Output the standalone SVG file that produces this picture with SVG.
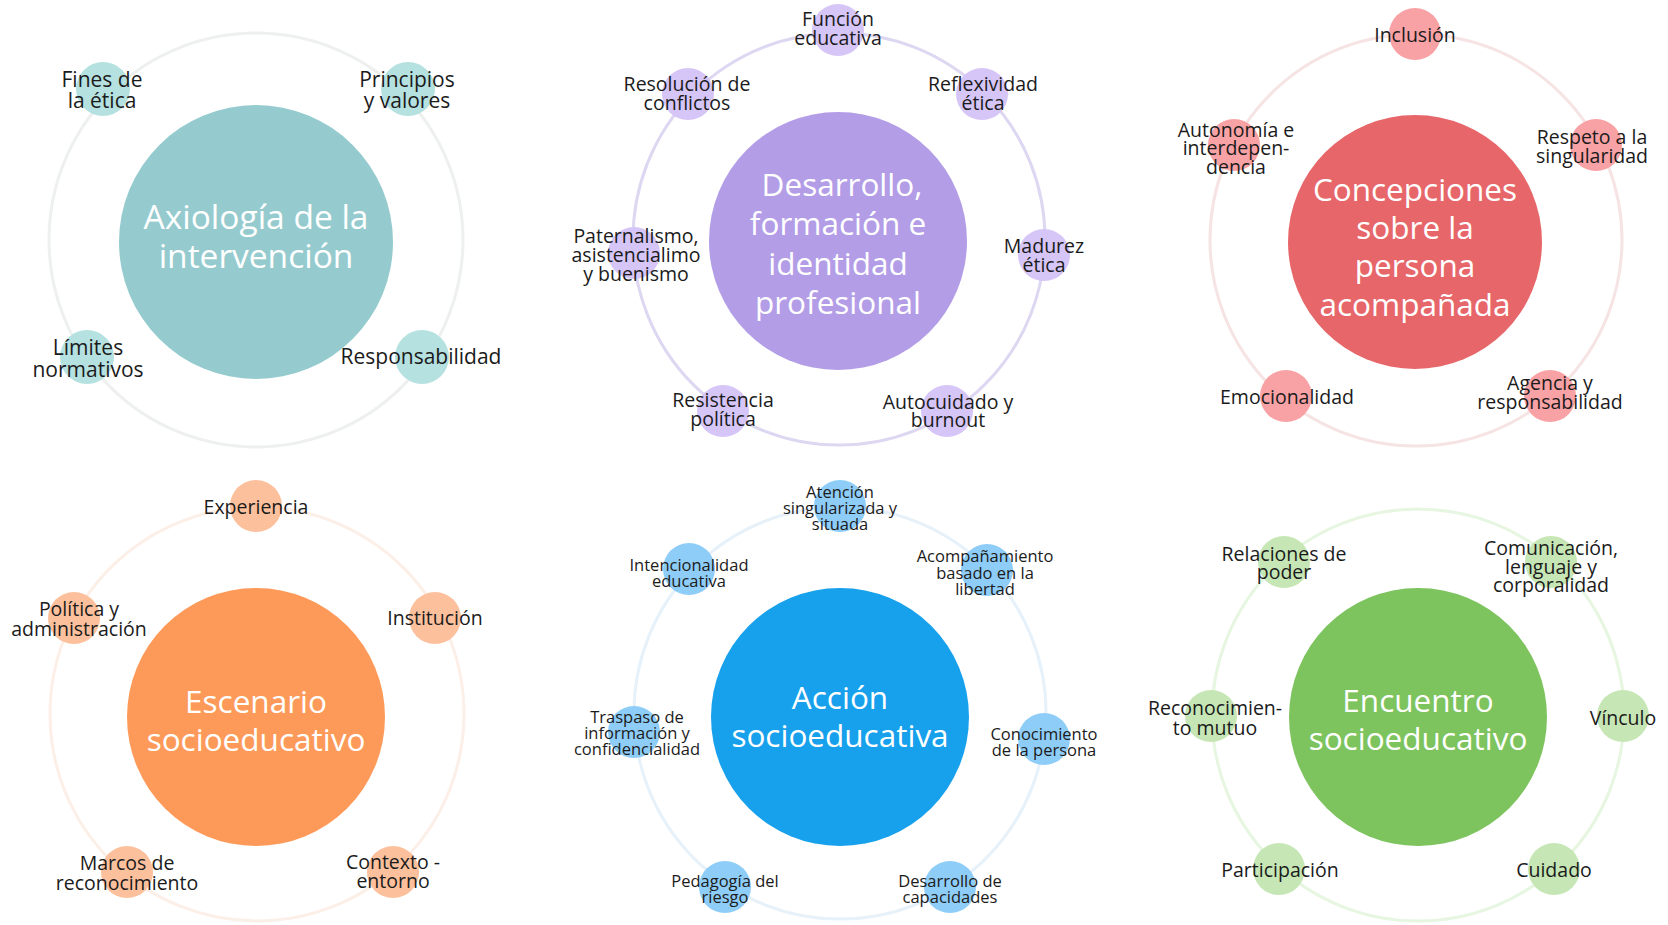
<svg xmlns="http://www.w3.org/2000/svg" width="1668" height="925" viewBox="0 0 1668 925">
  <style>
    text { font-family: "Open Sans", "Noto Sans", "Liberation Sans", sans-serif; text-anchor: middle; dominant-baseline: central; }
    .lbl { font-size: 19.5px; fill: #1b1b1b; }
    .lbl-l { font-size: 21px; fill: #1b1b1b; }
    .lbl-s { font-size: 16.5px; fill: #1b1b1b; }
    .hub-t { font-size: 31.5px; fill: #ffffff; }
    .hub-l { font-size: 33.5px; fill: #ffffff; }
    .ring { fill: none; stroke-width: 3; }
    .teal .hub { fill: #95CBCE; } .teal .sat { fill: #B5E1E0; } .ring.teal { stroke: #EEF0F0; }
    .lav .hub { fill: #B39DE7; } .lav .sat { fill: #D6C5F7; } .ring.lav { stroke: #DED7F1; }
    .red .hub { fill: #E7666A; } .red .sat { fill: #F9A2A5; } .ring.red { stroke: #F6E4E4; }
    .ora .hub { fill: #FE9A59; } .ora .sat { fill: #FDC09C; } .ring.ora { stroke: #FCEFE7; }
    .blu .hub { fill: #17A0EC; } .blu .sat { fill: #8ECDF8; } .ring.blu { stroke: #E6F1FA; }
    .grn .hub { fill: #7DC35E; } .grn .sat { fill: #C6E7B5; } .ring.grn { stroke: #E6F6E0; }
  </style>
  <rect width="1668" height="925" fill="#ffffff"/>

  <!-- orbit rings linking each hub with its satellites -->
  <g id="connectors">
    <circle class="ring teal" cx="256" cy="240" r="207"/>
    <circle class="ring lav" cx="839" cy="239" r="206"/>
    <circle class="ring red" cx="1416" cy="240" r="206"/>
    <circle class="ring ora" cx="257" cy="714" r="207"/>
    <circle class="ring blu" cx="840" cy="713" r="206"/>
    <circle class="ring grn" cx="1418" cy="715" r="206"/>
  </g>

  <!-- Axiología de la intervención -->
  <g id="axiologia" class="teal">
    <g id="axiologia-hub"><circle class="hub" cx="256" cy="242" r="137"/>
      <text class="hub-l"><tspan x="256" y="216">Axiología de la</tspan><tspan x="256" y="255">intervención</tspan></text></g>
    <g id="fines"><circle class="sat" cx="103" cy="89" r="27"/>
      <text class="lbl-l"><tspan x="102" y="79">Fines de</tspan><tspan x="102" y="100">la ética</tspan></text></g>
    <g id="principios"><circle class="sat" cx="408" cy="89" r="27"/>
      <text class="lbl-l"><tspan x="407" y="79">Principios</tspan><tspan x="407" y="100">y valores</tspan></text></g>
    <g id="limites"><circle class="sat" cx="87" cy="357" r="27"/>
      <text class="lbl-l"><tspan x="88" y="347">Límites</tspan><tspan x="88" y="369">normativos</tspan></text></g>
    <g id="responsabilidad"><circle class="sat" cx="422" cy="357" r="27"/>
      <text class="lbl-l"><tspan x="421" y="356">Responsabilidad</tspan></text></g>
  </g>

  <!-- Desarrollo, formación e identidad profesional -->
  <g id="desarrollo" class="lav">
    <g id="desarrollo-hub"><circle class="hub" cx="838" cy="241" r="129"/>
      <text class="hub-t"><tspan x="842" y="183">Desarrollo,</tspan><tspan x="838" y="222">formación e</tspan><tspan x="838" y="262">identidad</tspan><tspan x="838" y="301">profesional</tspan></text></g>
    <g id="funcion"><circle class="sat" cx="838" cy="30" r="26"/>
      <text class="lbl"><tspan x="838" y="18">Función</tspan><tspan x="838" y="37">educativa</tspan></text></g>
    <g id="reflexividad"><circle class="sat" cx="982" cy="94" r="26"/>
      <text class="lbl"><tspan x="983" y="83">Reflexividad</tspan><tspan x="983" y="102">ética</tspan></text></g>
    <g id="madurez"><circle class="sat" cx="1044" cy="255" r="26"/>
      <text class="lbl"><tspan x="1044" y="245">Madurez</tspan><tspan x="1044" y="264">ética</tspan></text></g>
    <g id="autocuidado"><circle class="sat" cx="947" cy="411" r="26"/>
      <text class="lbl"><tspan x="948" y="401">Autocuidado y</tspan><tspan x="948" y="419">burnout</tspan></text></g>
    <g id="resistencia"><circle class="sat" cx="723" cy="411" r="26"/>
      <text class="lbl"><tspan x="723" y="399">Resistencia</tspan><tspan x="723" y="418">política</tspan></text></g>
    <g id="paternalismo"><circle class="sat" cx="634" cy="253" r="26"/>
      <text class="lbl"><tspan x="636" y="235">Paternalismo,</tspan><tspan x="636" y="254">asistencialimo</tspan><tspan x="636" y="273">y buenismo</tspan></text></g>
    <g id="resolucion"><circle class="sat" cx="688" cy="94" r="26"/>
      <text class="lbl"><tspan x="687" y="83">Resolución de</tspan><tspan x="687" y="102">conflictos</tspan></text></g>
  </g>

  <!-- Concepciones sobre la persona acompañada -->
  <g id="concepciones" class="red">
    <g id="concepciones-hub"><circle class="hub" cx="1415" cy="242" r="127"/>
      <text class="hub-t"><tspan x="1415" y="188">Concepciones</tspan><tspan x="1415" y="226">sobre la</tspan><tspan x="1415" y="264">persona</tspan><tspan x="1415" y="303">acompañada</tspan></text></g>
    <g id="inclusion"><circle class="sat" cx="1415" cy="34" r="26"/>
      <text class="lbl"><tspan x="1415" y="34">Inclusión</tspan></text></g>
    <g id="respeto"><circle class="sat" cx="1596" cy="145" r="26"/>
      <text class="lbl"><tspan x="1592" y="136">Respeto a la</tspan><tspan x="1592" y="155">singularidad</tspan></text></g>
    <g id="agencia"><circle class="sat" cx="1550" cy="396" r="26"/>
      <text class="lbl"><tspan x="1550" y="382">Agencia y</tspan><tspan x="1550" y="401">responsabilidad</tspan></text></g>
    <g id="emocionalidad"><circle class="sat" cx="1286" cy="396" r="26"/>
      <text class="lbl"><tspan x="1287" y="396">Emocionalidad</tspan></text></g>
    <g id="autonomia"><circle class="sat" cx="1234" cy="145" r="26"/>
      <text class="lbl"><tspan x="1236" y="129">Autonomía e</tspan><tspan x="1236" y="147">interdepen-</tspan><tspan x="1236" y="166">dencia</tspan></text></g>
  </g>

  <!-- Escenario socioeducativo -->
  <g id="escenario" class="ora">
    <g id="escenario-hub"><circle class="hub" cx="256" cy="717" r="129"/>
      <text class="hub-t"><tspan x="256" y="700">Escenario</tspan><tspan x="256" y="738">socioeducativo</tspan></text></g>
    <g id="experiencia"><circle class="sat" cx="256" cy="506" r="26"/>
      <text class="lbl"><tspan x="256" y="506">Experiencia</tspan></text></g>
    <g id="institucion"><circle class="sat" cx="435" cy="618" r="26"/>
      <text class="lbl"><tspan x="435" y="617">Institución</tspan></text></g>
    <g id="contexto"><circle class="sat" cx="393" cy="872" r="26"/>
      <text class="lbl"><tspan x="393" y="861">Contexto -</tspan><tspan x="393" y="880">entorno</tspan></text></g>
    <g id="marcos"><circle class="sat" cx="127" cy="872" r="26"/>
      <text class="lbl"><tspan x="127" y="862">Marcos de</tspan><tspan x="127" y="882">reconocimiento</tspan></text></g>
    <g id="politica"><circle class="sat" cx="74" cy="618" r="26"/>
      <text class="lbl"><tspan x="79" y="608">Política y</tspan><tspan x="79" y="628">administración</tspan></text></g>
  </g>

  <!-- Acción socioeducativa -->
  <g id="accion" class="blu">
    <g id="accion-hub"><circle class="hub" cx="840" cy="717" r="129"/>
      <text class="hub-t"><tspan x="840" y="696">Acción</tspan><tspan x="840" y="734">socioeducativa</tspan></text></g>
    <g id="atencion"><circle class="sat" cx="840" cy="506" r="26"/>
      <text class="lbl-s"><tspan x="840" y="491">Atención</tspan><tspan x="840" y="507">singularizada y</tspan><tspan x="840" y="523">situada</tspan></text></g>
    <g id="acompanamiento"><circle class="sat" cx="987" cy="570" r="26"/>
      <text class="lbl-s"><tspan x="985" y="555">Acompañamiento</tspan><tspan x="985" y="572">basado en la</tspan><tspan x="985" y="588">libertad</tspan></text></g>
    <g id="conocimiento"><circle class="sat" cx="1044" cy="739" r="26"/>
      <text class="lbl-s"><tspan x="1044" y="733">Conocimiento</tspan><tspan x="1044" y="749">de la persona</tspan></text></g>
    <g id="capacidades"><circle class="sat" cx="950" cy="887" r="26"/>
      <text class="lbl-s"><tspan x="950" y="880">Desarrollo de</tspan><tspan x="950" y="896">capacidades</tspan></text></g>
    <g id="riesgo"><circle class="sat" cx="725" cy="887" r="26"/>
      <text class="lbl-s"><tspan x="725" y="880">Pedagogía del</tspan><tspan x="725" y="896">riesgo</tspan></text></g>
    <g id="traspaso"><circle class="sat" cx="634" cy="732" r="26"/>
      <text class="lbl-s"><tspan x="637" y="716">Traspaso de</tspan><tspan x="637" y="732">información y</tspan><tspan x="637" y="748">confidencialidad</tspan></text></g>
    <g id="intencionalidad"><circle class="sat" cx="689" cy="569" r="26"/>
      <text class="lbl-s"><tspan x="689" y="564">Intencionalidad</tspan><tspan x="689" y="580">educativa</tspan></text></g>
  </g>

  <!-- Encuentro socioeducativo -->
  <g id="encuentro" class="grn">
    <g id="encuentro-hub"><circle class="hub" cx="1418" cy="717" r="129"/>
      <text class="hub-t"><tspan x="1418" y="699">Encuentro</tspan><tspan x="1418" y="737">socioeducativo</tspan></text></g>
    <g id="relaciones"><circle class="sat" cx="1284" cy="562" r="26"/>
      <text class="lbl"><tspan x="1284" y="553">Relaciones de</tspan><tspan x="1284" y="571">poder</tspan></text></g>
    <g id="comunicacion"><circle class="sat" cx="1551" cy="562" r="26"/>
      <text class="lbl"><tspan x="1551" y="547">Comunicación,</tspan><tspan x="1551" y="566">lenguaje y</tspan><tspan x="1551" y="584">corporalidad</tspan></text></g>
    <g id="vinculo"><circle class="sat" cx="1623" cy="716" r="26"/>
      <text class="lbl"><tspan x="1623" y="717">Vínculo</tspan></text></g>
    <g id="cuidado"><circle class="sat" cx="1554" cy="869" r="26"/>
      <text class="lbl"><tspan x="1554" y="869">Cuidado</tspan></text></g>
    <g id="participacion"><circle class="sat" cx="1279" cy="869" r="26"/>
      <text class="lbl"><tspan x="1280" y="869">Participación</tspan></text></g>
    <g id="reconocimiento"><circle class="sat" cx="1211" cy="716" r="26"/>
      <text class="lbl"><tspan x="1215" y="707">Reconocimien-</tspan><tspan x="1215" y="727">to mutuo</tspan></text></g>
  </g>
</svg>
